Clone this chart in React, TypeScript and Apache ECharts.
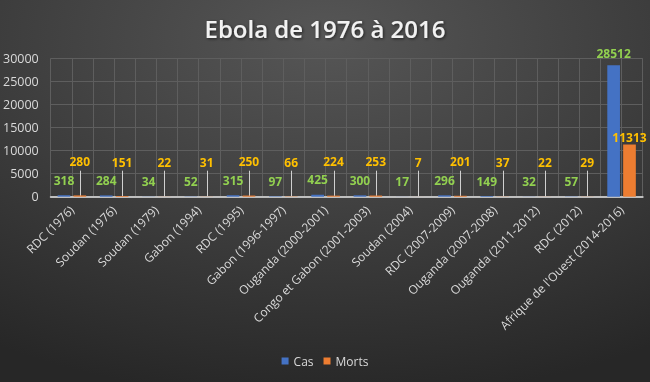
import React, { useEffect, useRef } from "react";
import * as echarts from "echarts";

const categories = [
  "RDC (1976)",
  "Soudan (1976)",
  "Soudan (1979)",
  "Gabon (1994)",
  "RDC (1995)",
  "Gabon (1996-1997)",
  "Ouganda (2000-2001)",
  "Congo et Gabon (2001-2003)",
  "Soudan (2004)",
  "RDC (2007-2009)",
  "Ouganda (2007-2008)",
  "Ouganda (2011-2012)",
  "RDC (2012)",
  "Afrique de l'Ouest (2014-2016)",
];
const cas = [318, 284, 34, 52, 315, 97, 425, 300, 17, 296, 149, 32, 57, 28512];
const morts = [280, 151, 22, 31, 250, 66, 224, 253, 7, 201, 37, 22, 29, 11313];
const halfSlots = Array.from({ length: categories.length * 2 }, (_, i) => String(i));

const FONT = "'Open Sans', sans-serif";

export default function App() {
  const ref = useRef<HTMLDivElement>(null);
  useEffect(() => {
    if (!ref.current) return;
    const chart = echarts.init(ref.current, undefined, { renderer: "svg" });
    const labelBase = { show: true, position: "top", fontFamily: FONT, fontWeight: "bold", fontSize: 12 };
    chart.setOption({
      animation: false,
      backgroundColor: {
        type: "radial",
        x: 0.5,
        y: 0.1,
        r: 0.95,
        colorStops: [
          { offset: 0, color: "#565656" },
          { offset: 1, color: "#272727" },
        ],
      },
      title: {
        text: "Ebola de 1976 à 2016",
        left: "center",
        top: 11,
        textStyle: {
          color: "#f2f2f2",
          fontFamily: FONT,
          fontWeight: 600,
          fontSize: 24,
          textShadowColor: "rgba(0,0,0,0.6)",
          textShadowBlur: 3,
          textShadowOffsetX: 1,
          textShadowOffsetY: 1,
        },
      },
      legend: {
        bottom: 10,
        left: "center",
        icon: "rect",
        itemWidth: 7,
        itemHeight: 7,
        itemGap: 10,
        textStyle: { color: "#d9d9d9", fontFamily: FONT, fontSize: 12 },
        data: ["Cas", "Morts"],
      },
      grid: { left: 50.7, right: 7.3, top: 58.3, bottom: 185.3, containLabel: false },
      xAxis: [
        {
          type: "category",
          data: categories,
          axisLine: { show: true, lineStyle: { color: "#bfbfbf", width: 2 } },
          axisTick: { show: false },
          splitLine: { show: false },
          axisLabel: {
            rotate: 45,
            interval: 0,
            color: "#d9d9d9",
            fontFamily: FONT,
            fontSize: 12,
            margin: 11,
          },
        },
        {
          type: "category",
          data: halfSlots,
          position: "bottom",
          axisLine: { show: false },
          axisTick: { show: false },
          axisLabel: { show: false },
          splitLine: { show: true, interval: 0, lineStyle: { color: "#5e5e5e", width: 1 } },
        },
      ],
      yAxis: {
        type: "value",
        min: 0,
        max: 30000,
        interval: 5000,
        axisLine: { show: false },
        axisTick: { show: false },
        axisLabel: {
          color: "#d9d9d9",
          fontFamily: FONT,
          fontSize: 12.5,
          margin: 12,
          formatter: (v: number) => String(v),
        },
        splitLine: { lineStyle: { color: "#5e5e5e", width: 1 } },
      },
      series: [
        {
          name: "Cas",
          type: "bar",
          barWidth: "30%",
          barGap: "25%",
          itemStyle: { color: "#4472c4" },
          label: { ...labelBase, color: "#92d050" },
          data: cas.map((v) => ({ value: v, label: { distance: v > 10000 ? 6 : 9 } })),
          z: 3,
        },
        {
          name: "Morts",
          type: "bar",
          barWidth: "30%",
          barGap: "25%",
          itemStyle: { color: "#ed7d31" },
          label: { ...labelBase, color: "#ffc000" },
          data: morts.map((v) => ({ value: v, label: { distance: v > 10000 ? 1 : 28 } })),
          z: 3,
        },
        {
          name: "leaders",
          type: "custom",
          silent: true,
          z: 2,
          data: morts.slice(0, morts.length - 1).map((v, i) => [i, v]),
          encode: { x: 0, y: 1 },
          renderItem: (params: any, api: any) => {
            const idx = api.value(0);
            const base = api.coord([idx, 0]);
            const w = api.size([1, 0])[0];
            const x = Math.round(base[0] + w * 0.1875) + 0.5;
            return {
              type: "line",
              shape: { x1: x, y1: base[1], x2: x, y2: base[1] - 26 },
              style: { stroke: "#d0d0d0", lineWidth: 1 },
            };
          },
        },
      ],
    });
    return () => chart.dispose();
  }, []);
  return (
    <div
      ref={ref}
      style={{ position: "fixed", left: 0, top: 0, width: 650, height: 382 }}
    />
  );
}
